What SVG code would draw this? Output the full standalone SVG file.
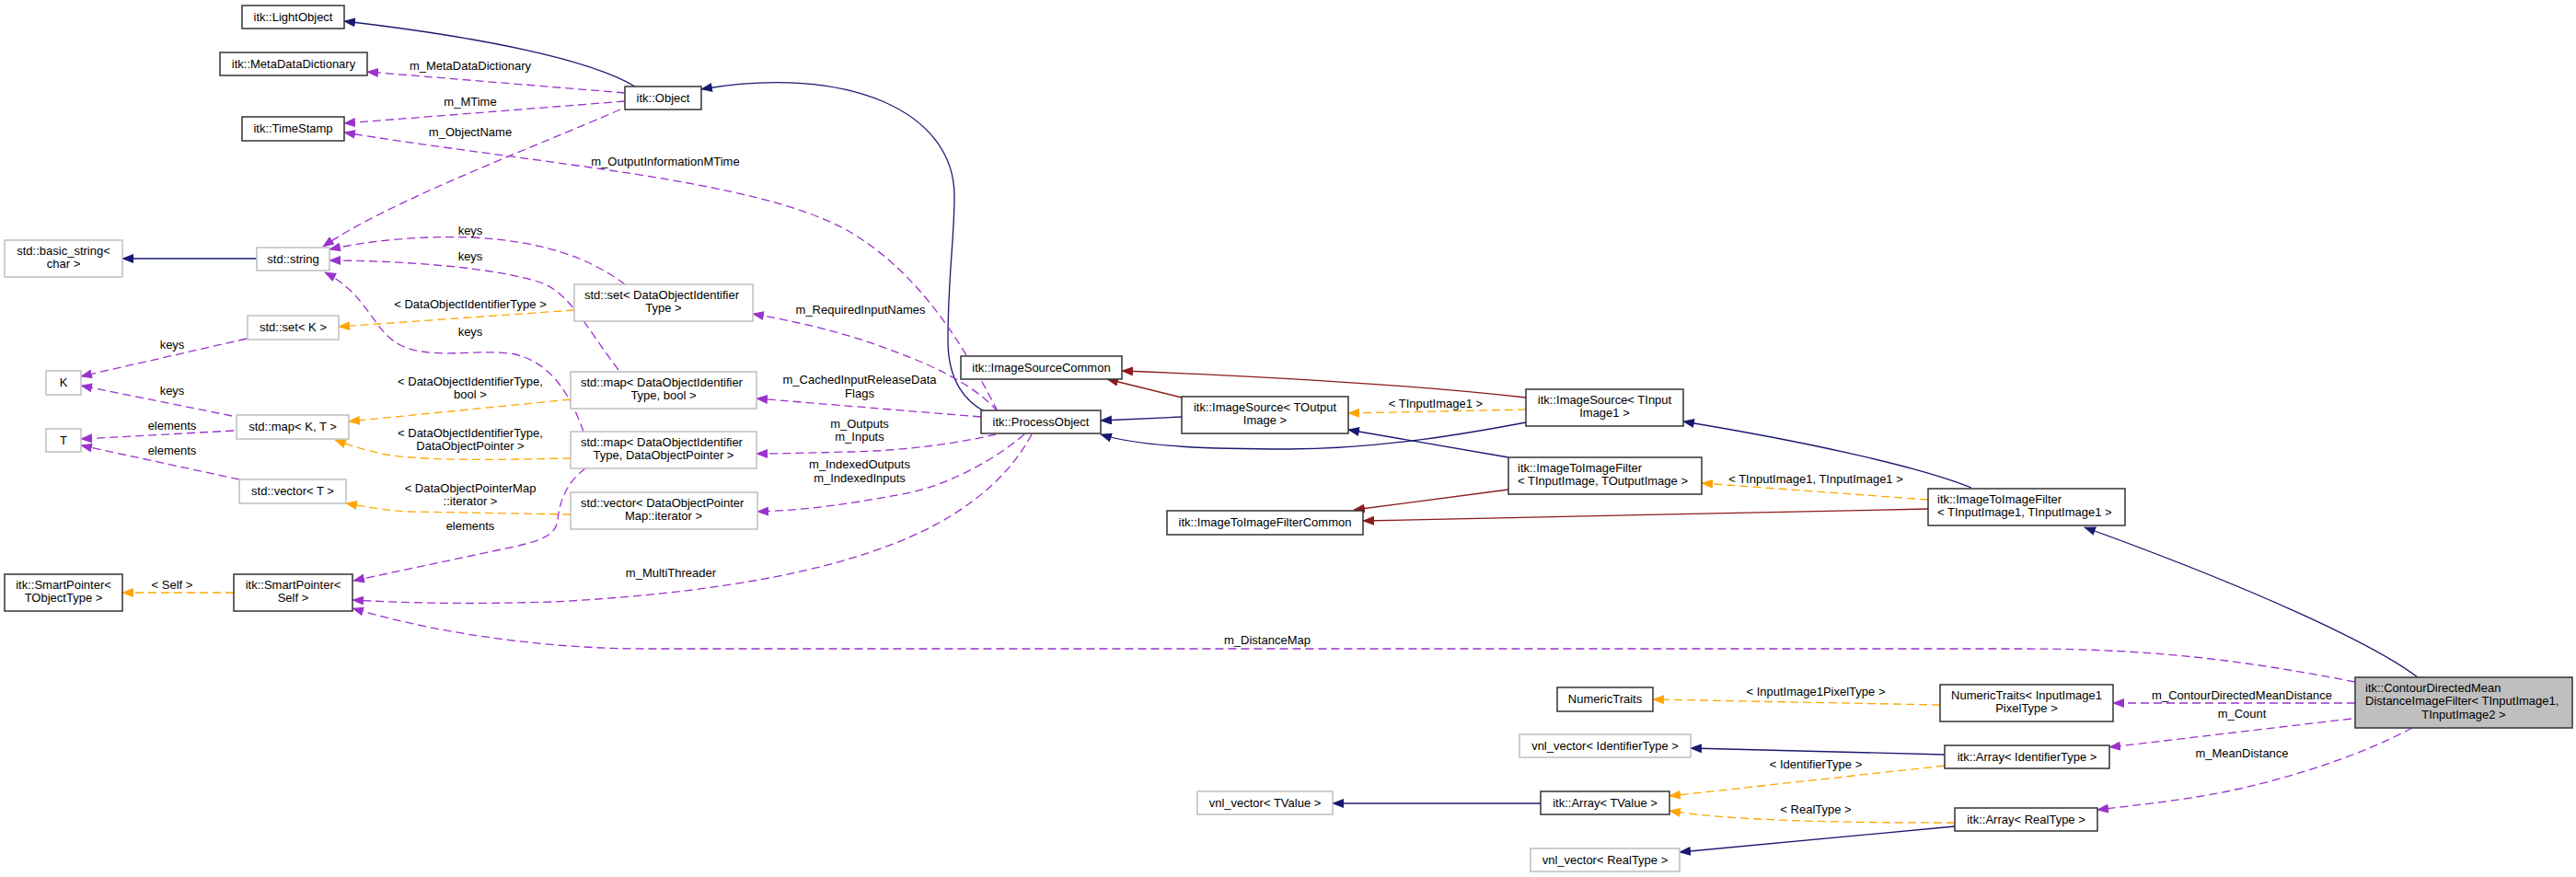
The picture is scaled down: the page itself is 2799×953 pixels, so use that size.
<svg xmlns="http://www.w3.org/2000/svg" width="2799" height="953" viewBox="0 0 2799 953">
<style>
text{font-family:"Liberation Sans",Arial,Helvetica,sans-serif;font-size:13px;fill:#000}
.m{text-anchor:middle}
.s{text-anchor:start}
.nb{fill:#fff;stroke:#333;stroke-width:1.5}
.ng{fill:#fff;stroke:#bfbfbf;stroke-width:1.5}
.nc{fill:#bfbfbf;stroke:#333;stroke-width:1.5}
.e{fill:none;stroke-width:1.3}
.blue{stroke:#191970;marker-end:url(#ab)}
.red{stroke:#8b1a1a;marker-end:url(#ar)}
.pur{stroke:#9a32cd;stroke-dasharray:9,5;marker-end:url(#ap)}
.org{stroke:#ffa500;stroke-dasharray:9,5;marker-end:url(#ao)}
</style>
<defs>
<marker id="ab" viewBox="0 0 13 10" refX="12" refY="5" markerWidth="13" markerHeight="10" markerUnits="userSpaceOnUse" orient="auto"><path d="M0,0 L13,5 L0,10 z" fill="#191970"/></marker>
<marker id="ar" viewBox="0 0 13 10" refX="12" refY="5" markerWidth="13" markerHeight="10" markerUnits="userSpaceOnUse" orient="auto"><path d="M0,0 L13,5 L0,10 z" fill="#8b1a1a"/></marker>
<marker id="ap" viewBox="0 0 13 10" refX="12" refY="5" markerWidth="13" markerHeight="10" markerUnits="userSpaceOnUse" orient="auto"><path d="M0,0 L13,5 L0,10 z" fill="#9a32cd"/></marker>
<marker id="ao" viewBox="0 0 13 10" refX="12" refY="5" markerWidth="13" markerHeight="10" markerUnits="userSpaceOnUse" orient="auto"><path d="M0,0 L13,5 L0,10 z" fill="#ffa500"/></marker>
</defs>
<rect width="2799" height="953" fill="#fff"/>

<g id="edges">
<path class="e blue" d="M690,94 C640,64 520,40 374,23"/>
<path class="e blue" d="M1070,447 C1050,437 1030,415 1030,370 C1030,300 1037,260 1037,213 C1037,120 920,70 762,97"/>
<path class="e blue" d="M279,281 L133,281"/>
<g><path class="e pur" d="M679,101 L399,78"/><text class="m" x="511" y="76">m_MetaDataDictionary</text></g>
<g><path class="e pur" d="M679,110 L374,134"/><text class="m" x="511" y="115">m_MTime</text></g>
<g><path class="e pur" d="M674,119 C580,160 420,220 351,268"/><text class="m" x="511" y="148">m_ObjectName</text></g>
<g><path class="e pur" d="M1084,447 C1040,360 990,290 920,250 C820,195 600,180 374,144"/><text class="m" x="723" y="180">m_OutputInformationMTime</text></g>
<g><path class="e pur" d="M679,309 C640,280 590,262 513,258 C450,256 400,262 358,271"/><text class="m" x="511" y="255">keys</text></g>
<g><path class="e pur" d="M672,402 C640,360 620,320 590,308 C540,290 430,283 358,283"/><text class="m" x="511" y="283">keys</text></g>
<g><path class="e pur" d="M634,469 C620,430 600,395 560,385 C520,378 470,392 435,375 C405,360 400,320 353,296"/><text class="m" x="511" y="365">keys</text></g>
<g><path class="e org" d="M624,337 L368,355"/><text class="m" x="511" y="335">&lt; DataObjectIdentifierType &gt;</text></g>
<g><path class="e pur" d="M268,368 L88,409"/><text class="m" x="187" y="379">keys</text></g>
<g><path class="e pur" d="M252,452 L88,419"/><text class="m" x="187" y="429">keys</text></g>
<g><path class="e pur" d="M254,468 L88,477"/><text class="m" x="187" y="467">elements</text></g>
<g><path class="e pur" d="M260,521 L88,484"/><text class="m" x="187" y="494">elements</text></g>
<g><path class="e org" d="M620,434 L379,458"/><text class="m" x="511" y="419">&lt; DataObjectIdentifierType,</text><text class="m" x="511" y="433">bool &gt;</text></g>
<g><path class="e org" d="M620,498 C560,499 470,502 420,494 C395,489 380,484 364,478"/><text class="m" x="511" y="475">&lt; DataObjectIdentifierType,</text><text class="m" x="511" y="489">DataObjectPointer &gt;</text></g>
<g><path class="e org" d="M620,559 L446,556 C420,555 400,551 376,547"/><text class="m" x="511" y="535">&lt; DataObjectPointerMap</text><text class="m" x="511" y="549">::iterator &gt;</text></g>
<g><path class="e pur" d="M636,509 C615,525 608,545 606,565 C604,582 590,588 540,598 L384,631"/><text class="m" x="511" y="576">elements</text></g>
<g><path class="e org" d="M254,644 L133,644"/><text class="m" x="187" y="640">&lt; Self &gt;</text></g>
<g><path class="e pur" d="M1121,472 C1090,530 1030,570 960,595 C860,632 720,648 600,654 C500,657 440,655 383,652"/><text class="m" x="729" y="627">m_MultiThreader</text></g>
<g><path class="e pur" d="M2559,741 C2450,720 2350,705 2200,705 L700,705 C600,705 480,690 383,661"/><text class="m" x="1377" y="700">m_DistanceMap</text></g>
<g><path class="e pur" d="M1084,447 C1060,420 1020,400 980,385 C930,365 880,352 818,341"/><text class="m" x="935" y="341">m_RequiredInputNames</text></g>
<g><path class="e pur" d="M1066,453 L822,433"/><text class="m" x="934" y="417">m_CachedInputReleaseData</text><text class="m" x="934" y="432">Flags</text></g>
<g><path class="e pur" d="M1082,472 C1040,482 980,490 923,491 C880,492 850,493 822,493"/><text class="m" x="934" y="465">m_Outputs</text><text class="m" x="934" y="479">m_Inputs</text></g>
<g><path class="e pur" d="M1113,472 C1080,500 1030,528 980,537 C920,548 880,554 823,556"/><text class="m" x="934" y="509">m_IndexedOutputs</text><text class="m" x="934" y="524">m_IndexedInputs</text></g>
<path class="e blue" d="M1284,453 L1196,457"/>
<path class="e red" d="M1284,432 L1203,412"/>
<path class="e red" d="M1658,432 C1550,420 1400,410 1219,403"/>
<g><path class="e org" d="M1658,445 L1465,449"/><text class="m" x="1560" y="443">&lt; TInputImage1 &gt;</text></g>
<path class="e blue" d="M1658,459 C1600,470 1500,488 1400,488 C1320,488 1240,486 1196,472"/>
<path class="e blue" d="M1639,497 L1465,467"/>
<path class="e red" d="M1639,532 L1471,554"/>
<path class="e red" d="M2095,553 L1481,566"/>
<g><path class="e org" d="M2095,543 L1849,525"/><text class="m" x="1973" y="525">&lt; TInputImage1, TInputImage1 &gt;</text></g>
<path class="e blue" d="M2142,530 C2080,505 1950,478 1829,458"/>
<path class="e blue" d="M2627,736 C2580,700 2450,640 2265,573"/>
<g><path class="e pur" d="M2559,764 L2296,764"/><text class="m" x="2436" y="760">m_ContourDirectedMeanDistance</text></g>
<g><path class="e org" d="M2108,766 L1796,760"/><text class="m" x="1973" y="756">&lt; InputImage1PixelType &gt;</text></g>
<g><path class="e pur" d="M2555,781 L2292,812"/><text class="m" x="2436" y="780">m_Count</text></g>
<g><path class="e pur" d="M2621,791 C2570,818 2500,843 2420,860 C2370,870 2320,875 2279,880"/><text class="m" x="2436" y="823">m_MeanDistance</text></g>
<path class="e blue" d="M2113,820 L1837,813"/>
<g><path class="e org" d="M2113,832 L1814,865"/><text class="m" x="1973" y="835">&lt; IdentifierType &gt;</text></g>
<g><path class="e org" d="M2124,894 C2000,894 1880,892 1814,881"/><text class="m" x="1973" y="884">&lt; RealType &gt;</text></g>
<path class="e blue" d="M2124,898 L1825,926"/>
<path class="e blue" d="M1674,873 L1448,873"/>
</g>

<g id="n-lightobject"><rect class="nb" x="263" y="6" width="111" height="25"/><text class="m" x="318.5" y="23">itk::LightObject</text></g>
<g id="n-metadatadictionary"><rect class="nb" x="239" y="57" width="160" height="25"/><text class="m" x="319" y="74">itk::MetaDataDictionary</text></g>
<g id="n-timestamp"><rect class="nb" x="263" y="127" width="111" height="26"/><text class="m" x="318.5" y="144">itk::TimeStamp</text></g>
<g id="n-object"><rect class="nb" x="679" y="94" width="83" height="25"/><text class="m" x="720.5" y="111">itk::Object</text></g>
<g id="n-basicstring"><rect class="ng" x="5" y="261" width="128" height="40"/><text class="m" x="69" y="277">std::basic_string&lt;</text><text class="m" x="69" y="291">char &gt;</text></g>
<g id="n-string"><rect class="ng" x="279" y="269" width="79" height="25"/><text class="m" x="318.5" y="286">std::string</text></g>
<g id="n-setk"><rect class="ng" x="269" y="343" width="99" height="26"/><text class="m" x="318.5" y="360">std::set&lt; K &gt;</text></g>
<g id="n-k"><rect class="ng" x="50" y="403" width="38" height="26"/><text class="m" x="69" y="420">K</text></g>
<g id="n-mapkt"><rect class="ng" x="257" y="451" width="122" height="26"/><text class="m" x="318" y="468">std::map&lt; K, T &gt;</text></g>
<g id="n-t"><rect class="ng" x="50" y="466" width="38" height="25"/><text class="m" x="69" y="483">T</text></g>
<g id="n-vectort"><rect class="ng" x="260" y="521" width="116" height="26"/><text class="m" x="318" y="538">std::vector&lt; T &gt;</text></g>
<g id="n-smartpointer-tobjecttype"><rect class="nb" x="5" y="624" width="128" height="40"/><text class="m" x="69" y="640">itk::SmartPointer&lt;</text><text class="m" x="69" y="654">TObjectType &gt;</text></g>
<g id="n-smartpointer-self"><rect class="nb" x="254" y="624" width="129" height="40"/><text class="m" x="318.5" y="640">itk::SmartPointer&lt;</text><text class="m" x="318.5" y="654">Self &gt;</text></g>
<g id="n-set-doit"><rect class="ng" x="624" y="309" width="194" height="40"/><text class="s" x="635" y="325">std::set&lt; DataObjectIdentifier</text><text class="m" x="721" y="339">Type &gt;</text></g>
<g id="n-map-doit-bool"><rect class="ng" x="620" y="404" width="202" height="40"/><text class="s" x="631" y="420">std::map&lt; DataObjectIdentifier</text><text class="m" x="721" y="434">Type, bool &gt;</text></g>
<g id="n-map-doit-dop"><rect class="ng" x="620" y="469" width="202" height="40"/><text class="s" x="631" y="485">std::map&lt; DataObjectIdentifier</text><text class="m" x="721" y="499">Type, DataObjectPointer &gt;</text></g>
<g id="n-vector-dopmap"><rect class="ng" x="620" y="535" width="203" height="40"/><text class="s" x="631" y="551">std::vector&lt; DataObjectPointer</text><text class="m" x="721" y="565">Map::iterator &gt;</text></g>
<g id="n-imagesourcecommon"><rect class="nb" x="1044" y="387" width="175" height="25"/><text class="m" x="1131.5" y="404">itk::ImageSourceCommon</text></g>
<g id="n-processobject"><rect class="nb" x="1066" y="446" width="130" height="25"/><text class="m" x="1131" y="463">itk::ProcessObject</text></g>
<g id="n-imagesource-toutput"><rect class="nb" x="1284" y="431" width="181" height="40"/><text class="m" x="1374.5" y="447">itk::ImageSource&lt; TOutput</text><text class="m" x="1374.5" y="461">Image &gt;</text></g>
<g id="n-imagesource-tinput"><rect class="nb" x="1658" y="423" width="171" height="40"/><text class="m" x="1743.5" y="439">itk::ImageSource&lt; TInput</text><text class="m" x="1743.5" y="453">Image1 &gt;</text></g>
<g id="n-itif"><rect class="nb" x="1639" y="497" width="210" height="40"/><text class="s" x="1649" y="513">itk::ImageToImageFilter</text><text class="s" x="1649" y="527">&lt; TInputImage, TOutputImage &gt;</text></g>
<g id="n-itifcommon"><rect class="nb" x="1268" y="555" width="213" height="26"/><text class="m" x="1374.5" y="572">itk::ImageToImageFilterCommon</text></g>
<g id="n-itif1"><rect class="nb" x="2095" y="531" width="214" height="40"/><text class="s" x="2105" y="547">itk::ImageToImageFilter</text><text class="s" x="2105" y="561">&lt; TInputImage1, TInputImage1 &gt;</text></g>
<g id="n-numerictraits"><rect class="nb" x="1692" y="747" width="104" height="26"/><text class="m" x="1744" y="764">NumericTraits</text></g>
<g id="n-vnl-identifiertype"><rect class="ng" x="1651" y="798" width="186" height="25"/><text class="m" x="1744" y="815">vnl_vector&lt; IdentifierType &gt;</text></g>
<g id="n-vnl-tvalue"><rect class="ng" x="1301" y="860" width="147" height="25"/><text class="m" x="1374.5" y="877">vnl_vector&lt; TValue &gt;</text></g>
<g id="n-array-tvalue"><rect class="nb" x="1674" y="860" width="140" height="25"/><text class="m" x="1744" y="877">itk::Array&lt; TValue &gt;</text></g>
<g id="n-vnl-realtype"><rect class="ng" x="1663" y="922" width="162" height="25"/><text class="m" x="1744" y="939">vnl_vector&lt; RealType &gt;</text></g>
<g id="n-numerictraits-pixel"><rect class="nb" x="2108" y="744" width="188" height="40"/><text class="m" x="2202" y="760">NumericTraits&lt; InputImage1</text><text class="m" x="2202" y="774">PixelType &gt;</text></g>
<g id="n-array-identifiertype"><rect class="nb" x="2113" y="810" width="179" height="25"/><text class="m" x="2202.5" y="827">itk::Array&lt; IdentifierType &gt;</text></g>
<g id="n-array-realtype"><rect class="nb" x="2124" y="878" width="155" height="25"/><text class="m" x="2201.5" y="895">itk::Array&lt; RealType &gt;</text></g>
<g id="n-contourdirectedmean"><rect class="nc" x="2559" y="736" width="236" height="55"/><text class="s" x="2570" y="752">itk::ContourDirectedMean</text><text class="s" x="2570" y="766">DistanceImageFilter&lt; TInputImage1,</text><text class="m" x="2677" y="781">TInputImage2 &gt;</text></g>
</svg>
